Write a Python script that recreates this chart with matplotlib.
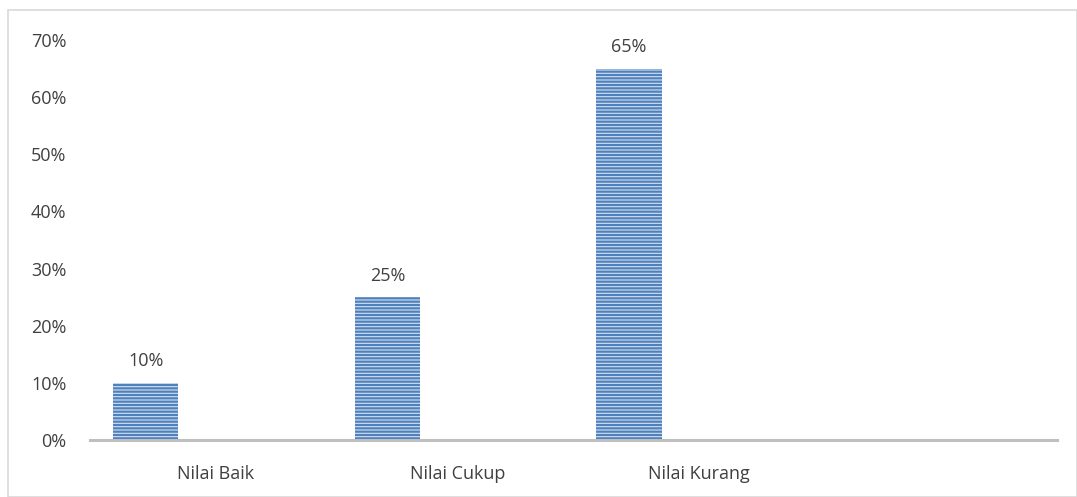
import numpy as np
import matplotlib.pyplot as plt
from matplotlib.patches import Rectangle

categories = ["Nilai Baik", "Nilai Cukup", "Nilai Kurang", ""]
values = [10, 25, 65, None]
yticks = [0, 10, 20, 30, 40, 50, 60, 70]

plt.rcParams['font.family'] = ['Open Sans', 'DejaVu Sans']
plt.rcParams['hatch.linewidth'] = 1.6

fig = plt.figure(figsize=(10.77, 4.97), dpi=100)
ax = fig.add_axes([90/1077, 57/497, 967/1077, 400/497])

# frame around the chart
fig.patches.append(Rectangle((8/1077, 0), 1 - 8/1077, 1 - 10/497,
                             transform=fig.transFigure, fill=False,
                             edgecolor='#d9d9d9', linewidth=1.2))

x = np.arange(len(categories))
w = 0.27
off = -0.27  # first series of a 2-series cluster, second is empty
for i, v in enumerate(values):
    if v is None:
        continue
    ax.bar(x[i] + off, v, width=w, color='#d3e0f2',
           edgecolor='#4f81bd', hatch='-----', linewidth=0)
    ax.text(x[i] + off, v + 2.2, f"{v}%", ha='center', va='bottom',
            fontsize=13, color='#404040')

ax.set_xlim(-0.5, 3.5)
ax.set_ylim(0, 70)
ax.set_yticks(yticks)
ax.set_yticklabels([f"{t}%" for t in yticks])
ax.set_xticks(x + 0.02)
ax.set_xticklabels(categories)
ax.tick_params(length=0, labelsize=13, labelcolor='#404040')
ax.tick_params(axis='y', pad=17)
ax.tick_params(axis='x', pad=18)
for s in ['top', 'right', 'left']:
    ax.spines[s].set_visible(False)
ax.spines['bottom'].set_color('#bfbfbf')
ax.spines['bottom'].set_linewidth(2.2)

fig.savefig('out.png', dpi=100)
